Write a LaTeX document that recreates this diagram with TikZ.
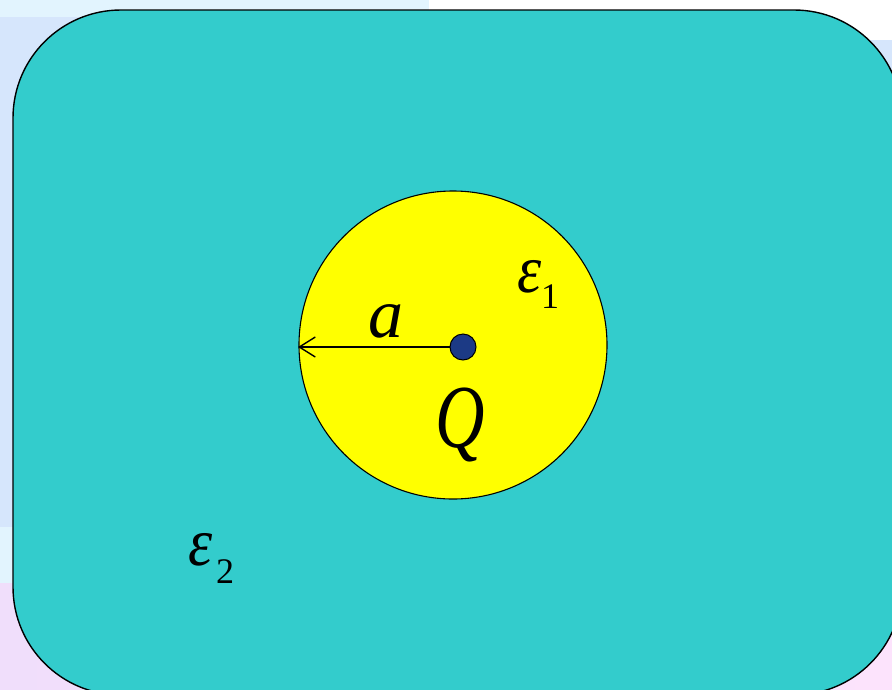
\documentclass[tikz,border=0pt]{standalone}
\usepackage{fontspec}
\setmainfont{Liberation Serif}
\usetikzlibrary{arrows.meta}
\definecolor{teal2}{RGB}{51,204,204}
\definecolor{yel}{RGB}{255,255,0}
\definecolor{bgblue}{RGB}{214,230,252}
\definecolor{bgcyan}{RGB}{226,244,254}
\definecolor{pinkL}{RGB}{240,222,251}
\definecolor{pinkR}{RGB}{252,227,252}
\definecolor{dotblue}{RGB}{28,58,133}
\tikzset{
  lbl/.style={inner sep=0pt, anchor=base, font=\itshape},
}
\begin{document}
\begin{tikzpicture}[x=1pt,y=-1pt]
\useasboundingbox (0,0) rectangle (892,689);
% background
\fill[bgblue] (0,0) rectangle (892,689);
\fill[bgcyan] (0,0) rectangle (429,17);
\fill[white] (429,0) rectangle (892,40);
\fill[bgcyan] (0,527) rectangle (892,583);
\shade[left color=pinkL, right color=pinkR] (0,583) rectangle (892,689);
% medium 2
\begin{scope}
\clip (0,0) rectangle (892,689);
\draw[fill=teal2, line width=1.4pt, rounded corners=108pt] (13,10) rectangle (902,695);
\end{scope}
% sphere
\node[circle, draw, fill=yel, line width=1.1pt, minimum size=308pt, inner sep=0pt] (sphere) at (453,345) {};
\node[circle, draw, fill=dotblue, line width=1pt, minimum size=26pt, inner sep=0pt] (Q) at (463,347) {};
\coordinate (edge) at (298,347);
\draw[-{Straight Barb[length=16pt,width=20pt,line width=1.4pt]}, line width=1.4pt] (Q.west) -- (edge);
% labels
\node[lbl, font=\itshape\fontsize{70}{70}\selectfont] (la) at (386,337) {a};
\node[lbl, font=\itshape\fontsize{90}{90}\selectfont] (lQ) at (460,447) {\scalebox{0.76}[1]{Q}};
\node[lbl, font=\itshape\fontsize{68}{68}\selectfont] (e1) at (530,292) {\scalebox{0.9}[1]{ε}};
\node[lbl, font=\fontsize{36}{36}\selectfont] (s1) at (550,308) {1};
\node[lbl, font=\itshape\fontsize{68}{68}\selectfont] (e2) at (201,565) {\scalebox{0.9}[1]{ε}};
\node[lbl, font=\fontsize{36}{36}\selectfont] (s2) at (225,583) {2};
\end{tikzpicture}
\end{document}
